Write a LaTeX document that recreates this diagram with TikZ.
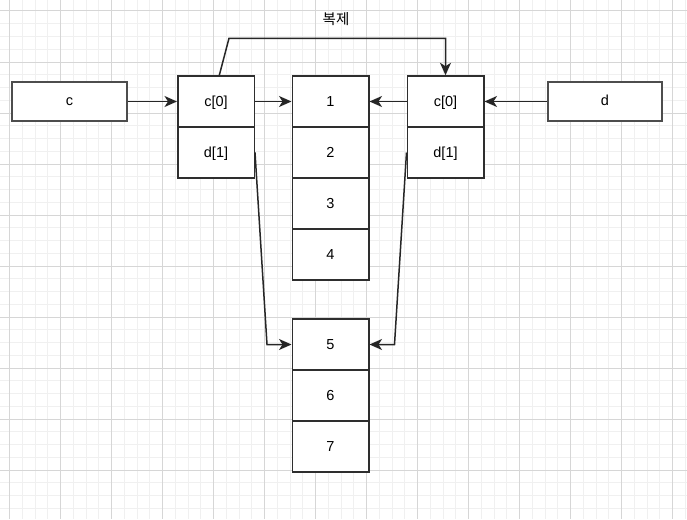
\documentclass[tikz,border=0pt]{standalone}
\usepackage{fontspec}
\setmainfont{Liberation Sans}
\newfontfamily\krfont{Noto Sans CJK KR}
\usetikzlibrary{arrows.meta}
\definecolor{gridmajor}{HTML}{D6D6D6}
\definecolor{gridminor}{HTML}{F0F0F0}
\definecolor{boxline}{HTML}{2E2E2E}
\tikzset{
  cell/.style={draw=boxline, line width=1.5pt, fill=white, minimum width=76.5pt, minimum height=51pt, inner sep=0pt, font=\fontsize{14.5}{17}\selectfont, text=black, text height=10.4pt, text depth=0pt},
  varbox/.style={draw=boxline!85, line width=1.8pt, fill=white, minimum width=114.5pt, minimum height=38.5pt, inner sep=0pt, font=\fontsize{14.5}{17}\selectfont, text=black, text height=7.6pt, text depth=0pt},
  conn/.style={draw=black!85, line width=1.5pt, -{Stealth[length=12.5pt,width=11pt,inset=3.5pt]}},
}
\begin{document}
\begin{tikzpicture}[x=1pt,y=-1pt]
\useasboundingbox (0,0) rectangle (687,519);
\fill[white] (0,0) rectangle (687,519);
% grid
\foreach \i in {0,...,55} {
  \draw[gridminor, line width=1pt] ({-3.25+12.75*\i},0) -- ({-3.25+12.75*\i},519);
}
\foreach \i in {0,...,42} {
  \draw[gridminor, line width=1pt] (0,{-1.75+12.75*\i}) -- (687,{-1.75+12.75*\i});
}
\foreach \i in {0,...,13} {
  \draw[gridmajor, line width=1pt] ({9.5+51*\i},0) -- ({9.5+51*\i},519);
}
\foreach \i in {0,...,10} {
  \draw[gridmajor, line width=1pt] (0,{11+51*\i}) -- (687,{11+51*\i});
}
% variable boxes
\node[varbox] (c) at (69.5,101.5) {c};
\node[varbox] (d) at (605,101.5) {d};
% left stack
\node[cell] (c0L) at (216,101.5) {c[0]};
\node[cell] (d1L) at (216,152.5) {d[1]};
% right stack
\node[cell] (c0R) at (445.5,101.5) {c[0]};
\node[cell] (d1R) at (445.5,152.5) {d[1]};
% center stack
\node[cell] (n1) at (330.5,101.5) {1};
\node[cell] (n2) at (330.5,152.5) {2};
\node[cell] (n3) at (330.5,203.5) {3};
\node[cell] (n4) at (330.5,254.5) {4};
% bottom stack
\node[cell] (n5) at (330.5,344.5) {5};
\node[cell] (n6) at (330.5,395.5) {6};
\node[cell] (n7) at (330.5,446.5) {7};
% connectors
\draw[conn] (c.east) -- (c0L.west);
\draw[conn] (c0L.east) -- (n1.west);
\draw[conn] (c0R.west) -- (n1.east);
\draw[conn] (d.west) -- (c0R.east);
\coordinate (kL) at (267,344.5);
\coordinate (kR) at (394.5,344.5);
\draw[conn] (d1L.east) -- (kL) -- (n5.west);
\draw[conn] (d1R.west) -- (kR) -- (n5.east);
\coordinate (t1) at (229,38.3);
\coordinate (t2) at (445.5,38.3);
\draw[conn] ([xshift=3.3pt]c0L.north) -- (t1) -- (t2) -- (c0R.north);
\node[font=\krfont\fontsize{14.5}{17}\selectfont, text=black, inner sep=0pt] (lbl) at (336,19) {복제};
\end{tikzpicture}
\end{document}
